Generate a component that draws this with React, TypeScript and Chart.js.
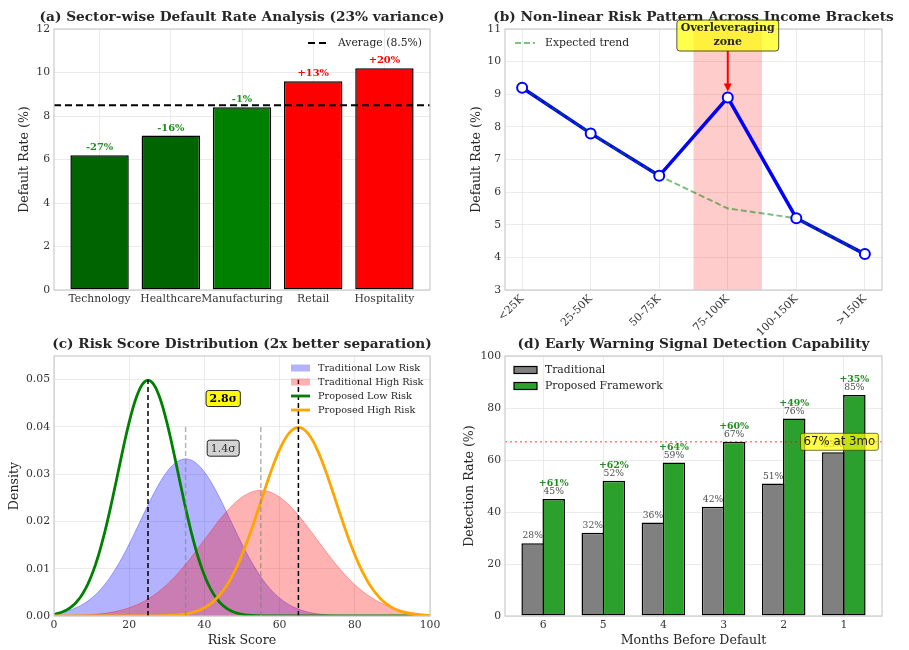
import React, { useEffect, useRef } from 'react';
import { Chart, registerables } from 'chart.js';

Chart.register(...registerables);

const W = 909;
const H = 650;
const SERIF = '"DejaVu Serif", "Liberation Serif", serif';
const SANS = '"DejaVu Sans", sans-serif';
const INK = '#262626';
const TICK = '#333333';
const GRID = '#e6e6e6';
const FRAME = '#cccccc';
const GAIN_GREEN = '#228b22';

// (a) default rate by sector
const sectors = ['Technology', 'Healthcare', 'Manufacturing', 'Retail', 'Hospitality'];
const sectorRates = [6.2, 7.1, 8.4, 9.6, 10.2];
const sectorColors = ['#006400', '#006400', '#008000', '#ff0000', '#ff0000'];
const averageRate = 8.5;
const sectorRateTicks = [0, 2, 4, 6, 8, 10, 12];

// (b) default rate by income bracket
const incomeBrackets = ['<25K', '25-50K', '50-75K', '75-100K', '100-150K', '>150K'];
const observedRates = [9.2, 7.8, 6.5, 8.9, 5.2, 4.1];
const expectedRates = [9.2, 7.8, 6.5, 5.5, 5.2, 4.1];
const overleverageBounds = [2.5, 3.5];
const incomeRateTicks = [3, 4, 5, 6, 7, 8, 9, 10, 11];

// (c) risk score distributions (normal densities)
const distNames = ['Traditional Low Risk', 'Traditional High Risk', 'Proposed Low Risk', 'Proposed High Risk'];
const distMeans = [35, 55, 25, 65];
const distStdDevs = [12, 15, 8, 10];
const meanMarkerTops = [0.04, 0.04, 0.05, 0.05];
const separationLabels = ['2.8σ', '1.4σ'];
const scoreTicks = [0, 20, 40, 60, 80, 100];
const densityTicks = [0, 0.01, 0.02, 0.03, 0.04, 0.05];

// (d) early warning detection
const monthsBefore = ['6', '5', '4', '3', '2', '1'];
const traditionalDetection = [28, 32, 36, 42, 51, 63];
const proposedDetection = [45, 52, 59, 67, 76, 85];
const detectionTarget = 67;
const detectionTicks = [0, 20, 40, 60, 80, 100];

type Box = { L: number; R: number; T: number; B: number; axh: number };
const PANEL_A: Box = { L: 54, R: 430, T: 29, B: 290, axh: 55 };
const PANEL_B: Box = { L: 505, R: 882, T: 29, B: 290, axh: 55 };
const PANEL_C: Box = { L: 54, R: 430, T: 356, B: 616, axh: 30 };
const PANEL_D: Box = { L: 505, R: 882, T: 356, B: 616, axh: 30 };
const AXW = 44;

type Ctx = CanvasRenderingContext2D;

const serif = (size: number, bold = false) => `${bold ? 'bold ' : ''}${size}px ${SERIF}`;

// round half to even, so 62.5 reads as 62
function roundEven(v: number) {
  const r = Math.round(v);
  return Math.abs(v % 1) === 0.5 && r % 2 !== 0 ? r - 1 : r;
}

function put(ctx: Ctx, s: string, x: number, y: number, font: string, color: string,
  align: CanvasTextAlign = 'center', baseline: CanvasTextBaseline = 'middle') {
  ctx.save();
  ctx.font = font;
  ctx.fillStyle = color;
  ctx.textAlign = align;
  ctx.textBaseline = baseline;
  ctx.fillText(s, x, y);
  ctx.restore();
}

function segment(ctx: Ctx, x1: number, y1: number, x2: number, y2: number, color: string, width: number, dash: number[] = []) {
  ctx.save();
  ctx.strokeStyle = color;
  ctx.lineWidth = width;
  ctx.setLineDash(dash);
  ctx.beginPath();
  ctx.moveTo(x1, y1);
  ctx.lineTo(x2, y2);
  ctx.stroke();
  ctx.restore();
}

function roundBox(ctx: Ctx, x: number, y: number, w: number, h: number, r: number, fill: string, stroke: string, lw: number) {
  ctx.save();
  ctx.beginPath();
  ctx.roundRect(x, y, w, h, r);
  ctx.fillStyle = fill;
  ctx.fill();
  ctx.strokeStyle = stroke;
  ctx.lineWidth = lw;
  ctx.stroke();
  ctx.restore();
}

function swatch(ctx: Ctx, x: number, y: number, w: number, h: number, fill: string, stroke?: string) {
  ctx.save();
  ctx.fillStyle = fill;
  ctx.fillRect(x, y - h / 2, w, h);
  if (stroke) {
    ctx.strokeStyle = stroke;
    ctx.lineWidth = 1.2;
    ctx.strokeRect(x, y - h / 2, w, h);
  }
  ctx.restore();
}

function drawFrame(chart: any) {
  const a = chart.chartArea;
  const ctx: Ctx = chart.ctx;
  ctx.save();
  ctx.strokeStyle = FRAME;
  ctx.lineWidth = 1.2;
  ctx.strokeRect(a.left, a.top, a.right - a.left, a.bottom - a.top);
  ctx.restore();
}

function drawTitle(chart: any, s: string) {
  const a = chart.chartArea;
  put(chart.ctx, s, (a.left + a.right) / 2, a.top - 11.5, serif(13.7, true), INK);
}

function drawYLabel(chart: any, s: string, offset: number) {
  const a = chart.chartArea;
  const ctx: Ctx = chart.ctx;
  ctx.save();
  ctx.translate(a.left - offset, (a.top + a.bottom) / 2);
  ctx.rotate(-Math.PI / 2);
  put(ctx, s, 0, 0, serif(12.6), INK);
  ctx.restore();
}

function drawXLabel(chart: any, s: string, offset: number) {
  const a = chart.chartArea;
  put(chart.ctx, s, (a.left + a.right) / 2, a.bottom + offset, serif(12.6), INK);
}

function baseOptions(p: Box) {
  return {
    animation: false,
    responsive: false,
    devicePixelRatio: 1,
    events: [],
    layout: { padding: { left: p.L - AXW, top: p.T, right: W - p.R, bottom: H - p.B - p.axh } },
    plugins: { legend: { display: false }, tooltip: { enabled: false }, title: { display: false } },
  };
}

function axis(dir: 'x' | 'y', p: Box, min: number, max: number, tickValues: number[], fmt: (v: number) => string, rotation = 0) {
  return {
    type: 'linear',
    min,
    max,
    offset: false,
    grid: { color: GRID, lineWidth: 0.8, drawTicks: false, offset: false },
    border: { display: false },
    afterBuildTicks: (s: any) => { s.ticks = tickValues.map((v) => ({ value: v })); },
    afterFit: (s: any) => { if (dir === 'x') s.height = p.axh; else s.width = AXW; },
    ticks: {
      autoSkip: false,
      minRotation: rotation,
      maxRotation: rotation,
      padding: dir === 'x' ? 2.5 : 4,
      color: TICK,
      font: { family: SERIF, size: 10.8 },
      callback: (v: number) => fmt(v),
    },
  };
}

// ---------- (a) sector default rates ----------
function configA() {
  const xMin = -0.64;
  const xMax = sectors.length - 1 + 0.64;
  return {
    type: 'bar',
    data: {
      datasets: [
        {
          type: 'line',
          data: [{ x: xMin, y: averageRate }, { x: xMax, y: averageRate }],
          borderColor: '#000000', borderWidth: 2, borderDash: [7, 4], pointRadius: 0, fill: false, order: 0,
        },
        {
          type: 'bar',
          data: sectorRates.map((v, i) => ({ x: i, y: v })),
          backgroundColor: sectorColors, borderColor: '#000000', borderWidth: 1.5, borderSkipped: false,
          barPercentage: 0.82, categoryPercentage: 1, order: 1,
        },
      ],
    },
    options: {
      ...baseOptions(PANEL_A),
      scales: {
        x: axis('x', PANEL_A, xMin, xMax, sectors.map((_, i) => i), (v) => sectors[Math.round(v)] ?? ''),
        y: axis('y', PANEL_A, 0, 12, sectorRateTicks, (v) => String(v)),
      },
    },
    plugins: [{
      id: 'sectorDecor',
      afterDraw(chart: any) {
        const ctx: Ctx = chart.ctx;
        const a = chart.chartArea;
        drawFrame(chart);
        drawTitle(chart, '(a) Sector-wise Default Rate Analysis (23% variance)');
        drawYLabel(chart, 'Default Rate (%)', 29);
        chart.getDatasetMeta(1).data.forEach((el: any, i: number) => {
          const diff = roundEven(((sectorRates[i] - averageRate) / averageRate) * 100);
          const label = `${diff > 0 ? '+' : ''}${diff}%`;
          put(ctx, label, el.x, el.y - 2.5, serif(9.9, true), diff > 0 ? '#ff0000' : GAIN_GREEN, 'center', 'bottom');
        });
        segment(ctx, a.right - 122, a.top + 14, a.right - 102, a.top + 14, '#000000', 2, [7, 4]);
        put(ctx, `Average (${averageRate}%)`, a.right - 92, a.top + 14, serif(10.8), INK, 'left');
      },
    }],
  };
}

// ---------- (b) income brackets ----------
function configB() {
  const xMin = -0.25;
  const xMax = incomeBrackets.length - 1 + 0.25;
  const observed = observedRates.map((v, i) => ({ x: i, y: v }));
  return {
    type: 'line',
    data: {
      datasets: [
        { data: observed, borderColor: '#0000ff', borderWidth: 3.5, pointRadius: 0, fill: false, tension: 0, order: 3 },
        {
          data: expectedRates.map((v, i) => ({ x: i, y: v })),
          borderColor: 'rgba(0,128,0,0.5)', borderWidth: 2, borderDash: [6, 3], pointRadius: 0, fill: false, tension: 0, order: 2,
        },
        {
          data: observed, showLine: false, pointRadius: 5, pointBorderWidth: 2,
          pointBackgroundColor: '#ffffff', pointBorderColor: '#0000ff', borderColor: '#0000ff', order: 1,
        },
      ],
    },
    options: {
      ...baseOptions(PANEL_B),
      scales: {
        x: axis('x', PANEL_B, xMin, xMax, incomeBrackets.map((_, i) => i), (v) => incomeBrackets[Math.round(v)] ?? '', 45),
        y: axis('y', PANEL_B, 3, 11, incomeRateTicks, (v) => String(v)),
      },
    },
    plugins: [{
      id: 'incomeDecor',
      beforeDatasetsDraw(chart: any) {
        const ctx: Ctx = chart.ctx;
        const a = chart.chartArea;
        const xs = chart.scales.x;
        const x1 = xs.getPixelForValue(overleverageBounds[0]);
        const x2 = xs.getPixelForValue(overleverageBounds[1]);
        ctx.save();
        ctx.fillStyle = 'rgba(255,0,0,0.2)';
        ctx.fillRect(x1, a.top, x2 - x1, a.bottom - a.top);
        ctx.restore();
      },
      afterDraw(chart: any) {
        const ctx: Ctx = chart.ctx;
        const a = chart.chartArea;
        const xs = chart.scales.x;
        const ys = chart.scales.y;
        drawFrame(chart);
        drawTitle(chart, '(b) Non-linear Risk Pattern Across Income Brackets');
        drawYLabel(chart, 'Default Rate (%)', 28);
        segment(ctx, a.left + 10, a.top + 14, a.left + 30, a.top + 14, 'rgba(0,128,0,0.5)', 2, [6, 3]);
        put(ctx, 'Expected trend', a.left + 40, a.top + 14, serif(10.8), INK, 'left');

        const idx = incomeBrackets.indexOf('75-100K');
        const px = xs.getPixelForValue(idx);
        const py = ys.getPixelForValue(observedRates[idx]);
        const cy = ys.getPixelForValue(10.8);
        ctx.save();
        ctx.font = serif(11, true);
        const tw = ctx.measureText('Overleveraging').width;
        ctx.restore();
        const bw = tw + 8;
        const bh = 31;
        const tip = py - 6;
        const start = cy + bh / 2;
        segment(ctx, px, start, px, tip - 6, '#ff0000', 2);
        ctx.save();
        ctx.fillStyle = '#ff0000';
        ctx.beginPath();
        ctx.moveTo(px, tip);
        ctx.lineTo(px - 4, tip - 8);
        ctx.lineTo(px + 4, tip - 8);
        ctx.closePath();
        ctx.fill();
        ctx.restore();
        roundBox(ctx, px - bw / 2, cy - bh / 2, bw, bh, 3, 'rgba(255,255,0,0.7)', 'rgba(40,40,40,0.8)', 1);
        put(ctx, 'Overleveraging', px, cy - 7, serif(11, true), INK);
        put(ctx, 'zone', px, cy + 7, serif(11, true), INK);
      },
    }],
  };
}

// ---------- (c) score distributions ----------
const SCORE_STEP = 0.5;
function normalDensity(x: number, mu: number, sd: number) {
  return Math.exp(-0.5 * ((x - mu) / sd) ** 2) / (sd * Math.sqrt(2 * Math.PI));
}
function densityCurve(i: number) {
  const pts: { x: number; y: number }[] = [];
  for (let k = 0; k <= 100 / SCORE_STEP; k++) {
    const x = k * SCORE_STEP;
    pts.push({ x, y: normalDensity(x, distMeans[i], distStdDevs[i]) });
  }
  return pts;
}

const distStyles = [
  { fill: 'rgba(0,0,255,0.3)', line: 'rgba(0,0,255,0.3)', width: 1, filled: true },
  { fill: 'rgba(255,0,0,0.3)', line: 'rgba(255,0,0,0.3)', width: 1, filled: true },
  { fill: 'transparent', line: '#008000', width: 2.8, filled: false },
  { fill: 'transparent', line: '#ffa500', width: 2.8, filled: false },
];

function configC() {
  const curves = distNames.map((_, i) => ({
    data: densityCurve(i),
    borderColor: distStyles[i].line,
    backgroundColor: distStyles[i].fill,
    borderWidth: distStyles[i].width,
    fill: distStyles[i].filled ? 'origin' : false,
    pointRadius: 0,
    tension: 0,
    order: 10 - i,
  }));
  const meanLines = distMeans.map((m, i) => ({
    data: [{ x: m, y: 0 }, { x: m, y: meanMarkerTops[i] }],
    borderColor: i < 2 ? 'rgba(128,128,128,0.6)' : '#000000',
    borderWidth: 1.5,
    borderDash: [5, 3],
    pointRadius: 0,
    fill: false,
    order: 4 - i,
  }));
  return {
    type: 'line',
    data: { datasets: [...curves, ...meanLines] },
    options: {
      ...baseOptions(PANEL_C),
      scales: {
        x: axis('x', PANEL_C, 0, 100, scoreTicks, (v) => String(v)),
        y: axis('y', PANEL_C, 0, 0.055, densityTicks, (v) => v.toFixed(2)),
      },
    },
    plugins: [{
      id: 'distDecor',
      afterDraw(chart: any) {
        const ctx: Ctx = chart.ctx;
        const a = chart.chartArea;
        const xs = chart.scales.x;
        const ys = chart.scales.y;
        drawFrame(chart);
        drawTitle(chart, '(c) Risk Score Distribution (2x better separation)');
        drawYLabel(chart, 'Density', 39);
        drawXLabel(chart, 'Risk Score', 25);

        distNames.forEach((name, i) => {
          const y = a.top + 12 + i * 14;
          const x0 = a.right - 139;
          if (distStyles[i].filled) swatch(ctx, x0, y, 19, 7, distStyles[i].fill);
          else segment(ctx, x0, y, x0 + 19, y, distStyles[i].line, 2.8);
          put(ctx, name, a.right - 112, y, serif(9.7), INK, 'left');
        });

        const sx = xs.getPixelForValue(45);
        const boxes = [
          { text: separationLabels[0], y: ys.getPixelForValue(0.046), bold: true, fill: '#ffff00', color: '#000000' },
          { text: separationLabels[1], y: ys.getPixelForValue(0.0355), bold: false, fill: '#d3d3d3', color: '#333333' },
        ];
        boxes.forEach((b) => {
          ctx.save();
          ctx.font = serif(11, b.bold);
          const tw = ctx.measureText(b.text).width;
          ctx.restore();
          roundBox(ctx, sx - tw / 2 - 3.5, b.y - 8, tw + 7, 16, 2.5, b.fill, '#222222', 1);
          put(ctx, b.text, sx, b.y + 0.5, serif(11, b.bold), b.color);
        });
      },
    }],
  };
}

// ---------- (d) detection capability ----------
function configD() {
  const xMin = -0.635;
  const xMax = monthsBefore.length - 1 + 0.635;
  return {
    type: 'bar',
    data: {
      datasets: [
        {
          type: 'line',
          data: [{ x: xMin, y: detectionTarget }, { x: xMax, y: detectionTarget }],
          borderColor: 'rgba(255,0,0,0.5)', borderWidth: 1.5, borderDash: [2, 3], pointRadius: 0, fill: false, order: 0,
        },
        {
          type: 'bar',
          data: traditionalDetection.map((v, i) => ({ x: i, y: v })),
          backgroundColor: '#808080', borderColor: '#000000', borderWidth: 1.5, borderSkipped: false,
          barPercentage: 1.07, categoryPercentage: 0.7, order: 1,
        },
        {
          type: 'bar',
          data: proposedDetection.map((v, i) => ({ x: i, y: v })),
          backgroundColor: '#2ca02c', borderColor: '#000000', borderWidth: 1.5, borderSkipped: false,
          barPercentage: 1.07, categoryPercentage: 0.7, order: 1,
        },
      ],
    },
    options: {
      ...baseOptions(PANEL_D),
      scales: {
        x: axis('x', PANEL_D, xMin, xMax, monthsBefore.map((_, i) => i), (v) => monthsBefore[Math.round(v)] ?? ''),
        y: axis('y', PANEL_D, 0, 100, detectionTicks, (v) => String(v)),
      },
    },
    plugins: [{
      id: 'detectDecor',
      afterDraw(chart: any) {
        const ctx: Ctx = chart.ctx;
        const a = chart.chartArea;
        const xs = chart.scales.x;
        const ys = chart.scales.y;
        drawFrame(chart);
        drawTitle(chart, '(d) Early Warning Signal Detection Capability');
        drawYLabel(chart, 'Detection Rate (%)', 35);
        drawXLabel(chart, 'Months Before Default', 25);

        chart.getDatasetMeta(1).data.forEach((el: any, i: number) => {
          put(ctx, `${traditionalDetection[i]}%`, el.x, el.y - 2.6, serif(9.2), '#4d4d4d', 'center', 'bottom');
        });
        chart.getDatasetMeta(2).data.forEach((el: any, i: number) => {
          put(ctx, `${proposedDetection[i]}%`, el.x, el.y - 2.6, serif(9.2), '#4d4d4d', 'center', 'bottom');
          const gain = roundEven((proposedDetection[i] / traditionalDetection[i] - 1) * 100);
          put(ctx, `+${gain}%`, el.x, ys.getPixelForValue(proposedDetection[i] + 4), serif(9.4, true), GAIN_GREEN, 'center', 'bottom');
        });

        const legend = [
          { name: 'Traditional', fill: '#808080' },
          { name: 'Proposed Framework', fill: '#2ca02c' },
        ];
        legend.forEach((l, i) => {
          const y = a.top + 14 + i * 16;
          swatch(ctx, a.left + 9, y, 23, 7, l.fill, '#000000');
          put(ctx, l.name, a.left + 40, y, serif(10.8), INK, 'left');
        });

        const tx = xs.getPixelForValue(4.33);
        const ty = ys.getPixelForValue(detectionTarget);
        const label = `${detectionTarget}% at 3mo`;
        ctx.save();
        ctx.font = `11.8px ${SANS}`;
        const tw = ctx.measureText(label).width;
        ctx.restore();
        roundBox(ctx, tx - 3, ty - 8.5, tw + 6, 17, 2, 'rgba(255,255,0,0.7)', 'rgba(60,60,0,0.7)', 1);
        put(ctx, label, tx, ty + 0.5, `11.8px ${SANS}`, '#1a1a1a', 'left');
      },
    }],
  };
}

export default function App() {
  const refA = useRef<HTMLCanvasElement>(null);
  const refB = useRef<HTMLCanvasElement>(null);
  const refC = useRef<HTMLCanvasElement>(null);
  const refD = useRef<HTMLCanvasElement>(null);

  useEffect(() => {
    const pairs: [React.RefObject<HTMLCanvasElement>, () => any][] = [
      [refA, configA], [refB, configB], [refC, configC], [refD, configD],
    ];
    const charts = pairs.map(([r, make]) => new Chart(r.current as HTMLCanvasElement, make()));
    return () => charts.forEach((c) => c.destroy());
  }, []);

  const canvasStyle: React.CSSProperties = { position: 'absolute', left: 0, top: 0, width: W, height: H };
  return (
    <div style={{ position: 'absolute', left: 0, top: 0, width: W, height: H, background: '#ffffff' }}>
      <canvas ref={refA} width={W} height={H} style={canvasStyle} />
      <canvas ref={refB} width={W} height={H} style={canvasStyle} />
      <canvas ref={refC} width={W} height={H} style={canvasStyle} />
      <canvas ref={refD} width={W} height={H} style={canvasStyle} />
    </div>
  );
}
